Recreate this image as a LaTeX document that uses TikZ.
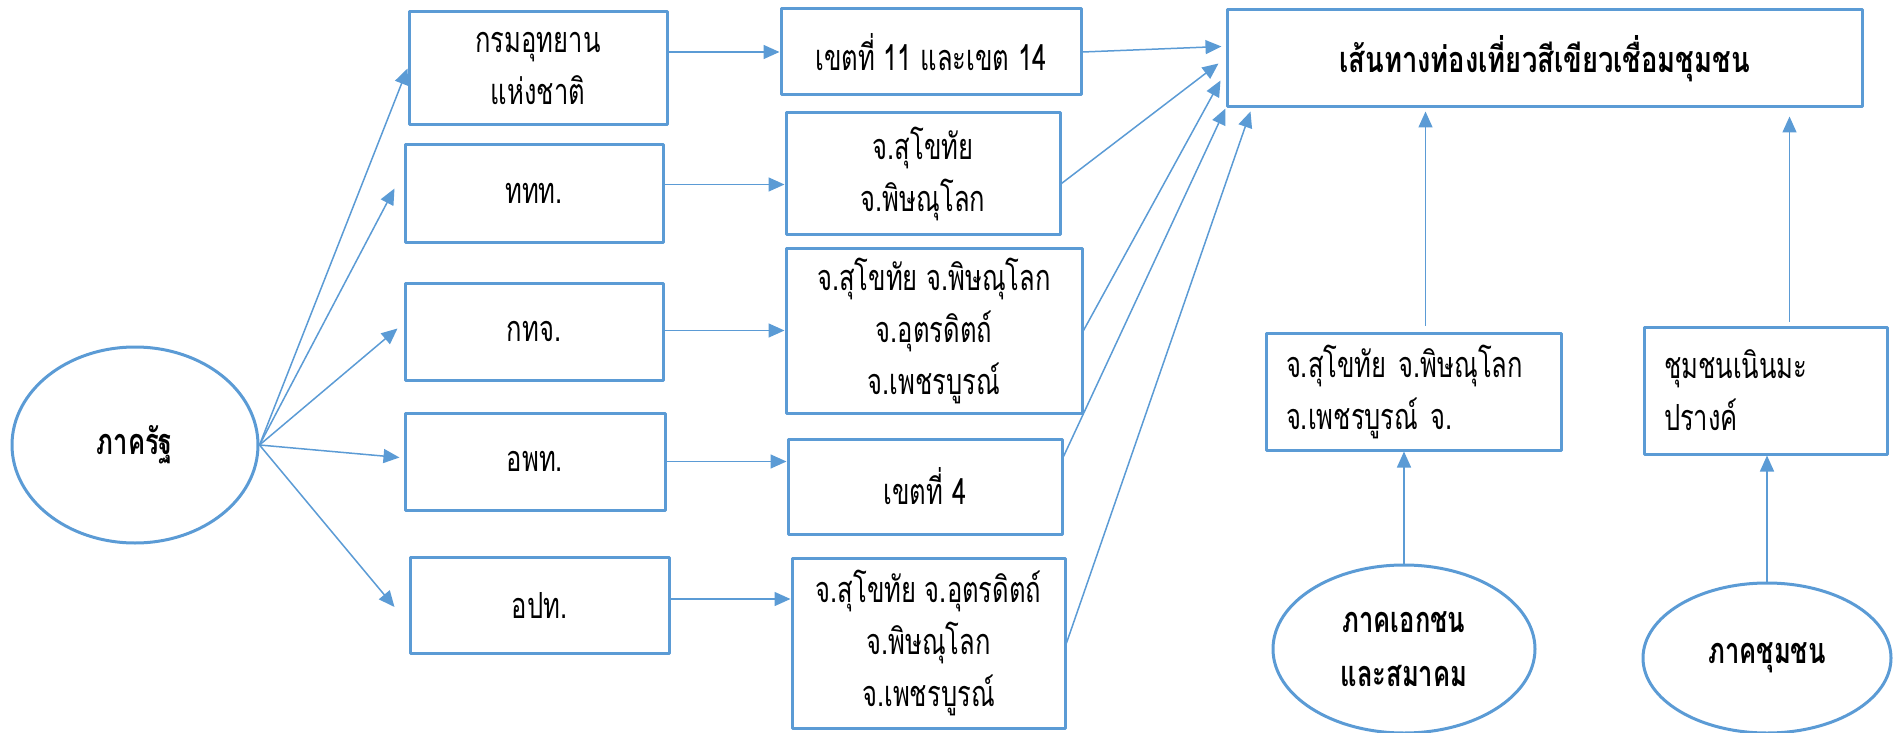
\documentclass[tikz,border=0pt]{standalone}
\usepackage{fontspec}
\newfontfamily\thaifont[Script=Thai,FakeStretch=0.71]{Loma}
\newfontfamily\titlefont[Script=Thai,FakeStretch=0.76]{Loma}
\usetikzlibrary{arrows.meta,calc,shapes.geometric}
\definecolor{lineblue}{HTML}{5B9BD5}
\begin{document}
\begin{tikzpicture}[x=0.5pt, y=-0.5pt, line join=round,
    box/.style={draw=lineblue, line width=1.5pt, align=center, inner sep=0pt,
      font=\thaifont\fontsize{18}{26}\selectfont},
    leftbox/.style={box, align=left, inner xsep=10pt},
    oval/.style={draw=lineblue, line width=1.5pt, ellipse, inner sep=0pt, align=center,
      font=\thaifont\bfseries\fontsize{18}{27}\selectfont},
    arr/.style={draw=lineblue, line width=0.75pt, -{Triangle[length=8pt,width=7pt]}}]
  \useasboundingbox (0,0) rectangle (1896,733);
  % state sector
  \node[oval, minimum width=123pt, minimum height=98pt] (gov) at (135,445) {ภาครัฐ};
  \node[box, minimum width=129pt, minimum height=56.5pt] (dnp) at (538,68.5) {กรมอุทยาน\\แห่งชาติ};
  \node[box, minimum width=129pt, minimum height=48.5pt] (tat) at (534,193.5) {ททท.};
  \node[box, minimum width=129pt, minimum height=48.5pt] (dla) at (534,331.5) {กทจ.};
  \node[box, minimum width=130pt, minimum height=48.5pt] (dasta) at (535,461.5) {อพท.};
  \node[box, minimum width=129.5pt, minimum height=48pt] (lao) at (539.5,605) {อปท.};
  % areas
  \node[box, minimum width=150pt, minimum height=43pt] (kt11) at (931,52) {เขตที่ 11 และเขต 14};
  \node[box, minimum width=137pt, minimum height=60.5pt] (sp) at (923,173.5) {จ.สุโขทัย\\จ.พิษณุโลก};
  \node[box, minimum width=148pt, minimum height=82.5pt] (spu) at (934,330.5) {จ.สุโขทัย จ.พิษณุโลก\\จ.อุตรดิตถ์\\จ.เพชรบูรณ์};
  \node[box, minimum width=137pt, minimum height=47.5pt] (kt4) at (925,486.5) {เขตที่ 4};
  \node[box, minimum width=136.5pt, minimum height=85pt] (sup) at (928.5,643) {จ.สุโขทัย จ.อุตรดิตถ์\\จ.พิษณุโลก\\จ.เพชรบูรณ์};
  % goal
  \node[box, font=\titlefont\bfseries\fontsize{18}{26}\selectfont, minimum width=317.5pt, minimum height=48.5pt] (route) at (1544.5,58.5) {เส้นทางท่องเที่ยวสีเขียวเชื่อมชุมชน};
  % private and community sectors
  \node[leftbox, text width=127.5pt, minimum height=58.5pt] (prov) at (1413.5,391.5) {จ.สุโขทัย จ.พิษณุโลก\\จ.เพชรบูรณ์ จ.};
  \node[leftbox, text width=101.5pt, minimum height=63.5pt] (comm) at (1765.5,390.5) {ชุมชนเนินมะ\\ปรางค์};
  \node[oval, minimum width=131pt, minimum height=84pt] (priv) at (1404,649) {ภาคเอกชน\\และสมาคม};
  \node[oval, minimum width=124pt, minimum height=75pt] (cs) at (1767,658) {ภาคชุมชน};

  \draw[arr] (gov.east) -- (dnp.west);
  \draw[arr] (gov.east) -- ($(tat.west)+(-9,-5)$);
  \draw[arr] (gov.east) -- ($(dla.west)+(-6,-3)$);
  \draw[arr] (gov.east) -- ($(dasta.west)+(-4,-4)$);
  \draw[arr] (gov.east) -- ($(lao.west)+(-14,2)$);

  \draw[arr] (dnp.east |- kt11.west) -- (kt11.west);
  \draw[arr] ([yshift=4.5pt]tat.east) -- ([yshift=4.5pt]tat.east -| sp.west);
  \draw[arr] (dla.east |- spu.west) -- (spu.west);
  \draw[arr] (dasta.east) -- (dasta.east -| kt4.west);
  \draw[arr] ([yshift=3pt]lao.east) -- ([yshift=3pt]lao.east -| sup.west);

  \draw[arr] (kt11.east) -- ($(route.west)+(-4,-12)$);
  \draw[arr] ($(sp.east)+(0,10)$) -- ($(route.west)+(-7,5)$);
  \draw[arr] (spu.east) -- ($(route.west)+(-5,22)$);
  \draw[arr] ($(kt4.east)+(0,-30)$) -- (route.south west);
  \draw[arr] (sup.east) -- ($(route.south west)+(25,3)$);

  \draw[arr] ($(prov.north)+(12,-6)$) -- ($(route.south -| prov.north)+(12,3)$);
  \draw[arr] ($(comm.north)+(24,-4)$) -- ($(route.south -| comm.north)+(24,8)$);
  \draw[arr] (priv.north) -- (prov.south -| priv.north);
  \draw[arr] (cs.north) -- (comm.south -| cs.north);
\end{tikzpicture}
\end{document}
